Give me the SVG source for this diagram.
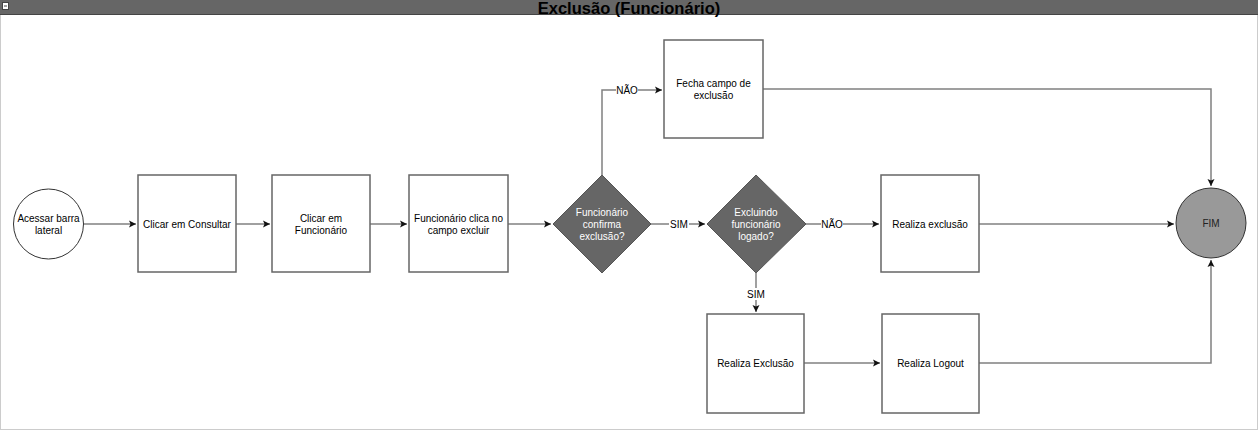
<svg xmlns="http://www.w3.org/2000/svg" width="1258" height="430" viewBox="0 0 1258 430">
<style>
text{font-family:"Liberation Sans",Arial,sans-serif;font-size:10px;text-anchor:middle;dominant-baseline:central}
.box{fill:#fff;stroke:#666;stroke-width:1.5}
.dia{fill:#666;stroke:#555;stroke-width:1}
.dia-t{fill:#fff}
.edge{fill:none;stroke:#808080;stroke-width:1.5}
.lbl{fill:#fff}
</style>
<defs>
<marker id="arr" viewBox="0 0 8 8" refX="7" refY="4" markerWidth="8" markerHeight="8" markerUnits="userSpaceOnUse" orient="auto">
<path d="M0,0.5 L7,4 L0,7.5 L1.5,4 Z" fill="#111"/>
</marker>
</defs>
<rect x="0" y="0" width="1258" height="430" fill="#fff"/>
<rect x="0.5" y="14" width="1257" height="415.5" fill="none" stroke="#ccc" stroke-width="1"/>
<rect x="0" y="0" width="1258" height="14" fill="#666"/>
<line x1="0" y1="14.5" x2="1258" y2="14.5" stroke="#444" stroke-width="1"/>
<rect x="2.5" y="2.5" width="6" height="7" fill="#fff" stroke="#444" stroke-width="1"/>
<line x1="4" y1="6" x2="7" y2="6" stroke="#444" stroke-width="1"/>
<text x="629" y="7.5" style="font-size:16.5px;font-weight:bold;fill:#000">Exclusão (Funcionário)</text>

<g id="connectors">
<path class="edge" d="M84,224 H136" marker-end="url(#arr)"/>
<path class="edge" d="M236,224 H270" marker-end="url(#arr)"/>
<path class="edge" d="M370,224 H407" marker-end="url(#arr)"/>
<path class="edge" d="M508,224 H551" marker-end="url(#arr)"/>
<path class="edge" d="M651,224 H705" marker-end="url(#arr)"/>
<path class="edge" d="M602,175 V90 H662" marker-end="url(#arr)"/>
<path class="edge" d="M763,89 H1211 V186" marker-end="url(#arr)"/>
<path class="edge" d="M806,224 H879" marker-end="url(#arr)"/>
<path class="edge" d="M979,224 H1174" marker-end="url(#arr)"/>
<path class="edge" d="M756,272 V312" marker-end="url(#arr)"/>
<path class="edge" d="M804,363 H880" marker-end="url(#arr)"/>
<path class="edge" d="M979,363 H1211 V260" marker-end="url(#arr)"/>
<rect class="lbl" x="616" y="84" width="22" height="12"/>
<text x="627" y="90">NÃO</text>
<rect class="lbl" x="669" y="218" width="20" height="12"/>
<text x="679" y="224">SIM</text>
<rect class="lbl" x="821" y="218" width="22" height="12"/>
<text x="832" y="224">NÃO</text>
<rect class="lbl" x="746" y="288" width="20" height="12"/>
<text x="756" y="294">SIM</text>
</g>

<g id="n-start">
<circle cx="48.5" cy="224" r="35" fill="#fff" stroke="#333" stroke-width="1"/>
<text x="48.5" y="218.5">Acessar barra</text>
<text x="48.5" y="230">lateral</text>
</g>
<g id="n-consultar">
<rect class="box" x="138" y="175" width="98" height="97"/>
<text x="187" y="224">Clicar em Consultar</text>
</g>
<g id="n-funcionario">
<rect class="box" x="272" y="175" width="98" height="97"/>
<text x="321" y="218.5">Clicar em</text>
<text x="321" y="230">Funcionário</text>
</g>
<g id="n-excluir">
<rect class="box" x="409" y="175" width="99" height="97"/>
<text x="458.5" y="218.5">Funcionário clica no</text>
<text x="458.5" y="230">campo excluir</text>
</g>
<g id="n-confirma">
<path class="dia" d="M602,175 L651,224 L602,273 L553,224 Z"/>
<text class="dia-t" x="602" y="212">Funcionário</text>
<text class="dia-t" x="602" y="224">confirma</text>
<text class="dia-t" x="602" y="236">exclusão?</text>
</g>
<g id="n-logado">
<path class="dia" d="M756,175 L806,224 L756,273 L707,224 Z"/>
<text class="dia-t" x="756" y="212">Excluindo</text>
<text class="dia-t" x="756" y="224">funcionário</text>
<text class="dia-t" x="756" y="236">logado?</text>
</g>
<g id="n-fecha">
<rect class="box" x="664" y="40" width="99" height="98"/>
<text x="713.5" y="83.5">Fecha campo de</text>
<text x="713.5" y="95">exclusão</text>
</g>
<g id="n-realiza1">
<rect class="box" x="881" y="175" width="98" height="97"/>
<text x="930" y="224">Realiza exclusão</text>
</g>
<g id="n-realiza2">
<rect class="box" x="707" y="314" width="97" height="99"/>
<text x="755.5" y="363">Realiza Exclusão</text>
</g>
<g id="n-logout">
<rect class="box" x="882" y="314" width="97" height="99"/>
<text x="930.5" y="363">Realiza Logout</text>
</g>
<g id="n-fim">
<circle cx="1211" cy="223" r="35" fill="#999" stroke="#333" stroke-width="1"/>
<text x="1211" y="223" style="fill:#222">FIM</text>
</g>
</svg>
